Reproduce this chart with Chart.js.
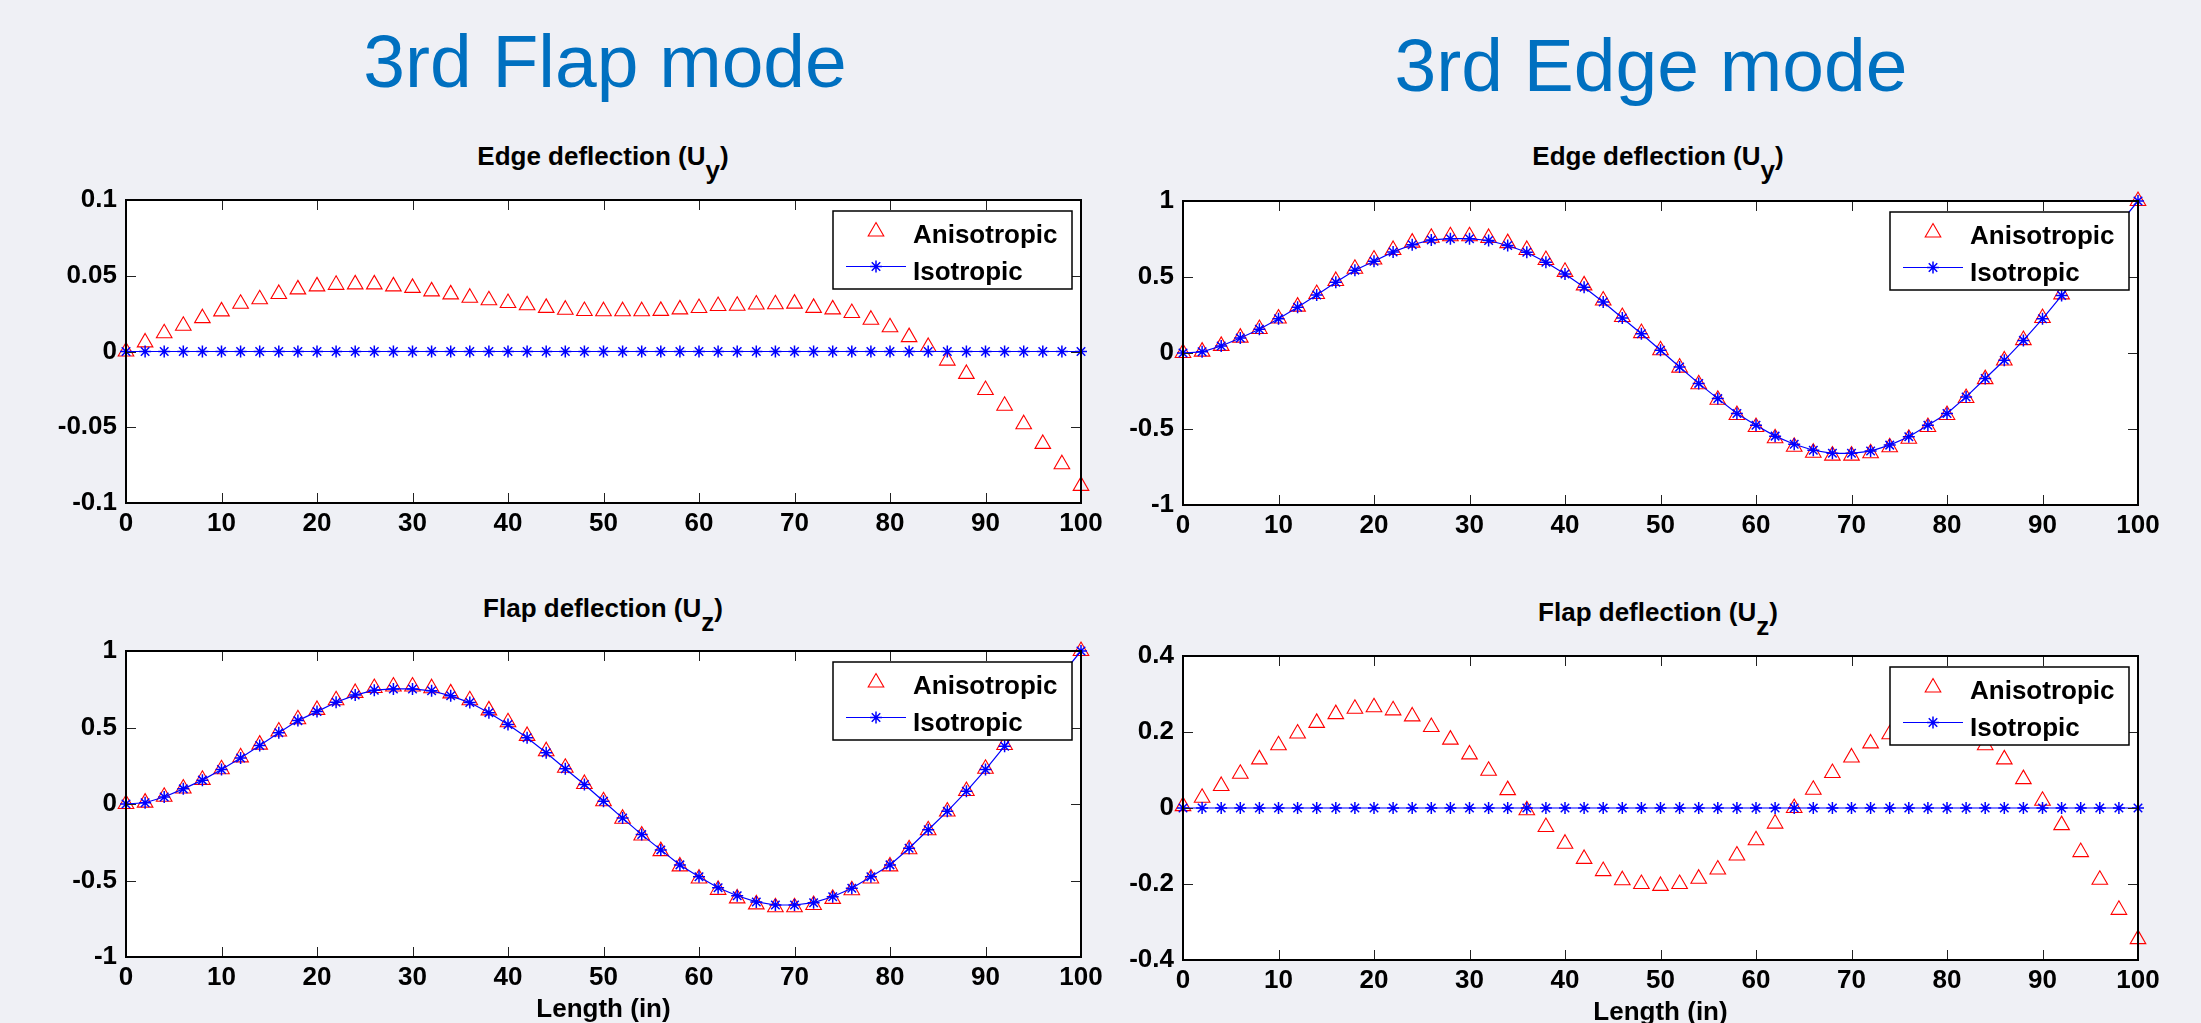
<!DOCTYPE html>
<html>
<head>
<meta charset="utf-8">
<script src="https://cdn.jsdelivr.net/npm/chart.js@4.4.1/dist/chart.umd.min.js"></script>
<style>
  html, body { margin: 0; padding: 0; width: 2201px; height: 1023px; overflow: hidden; background: #eff0f5; }
  #page { position: relative; width: 2201px; height: 1023px; overflow: hidden; font-family: "Liberation Sans", Arial, sans-serif; }
  .heading { position: absolute; font-size: 75px; line-height: 75px; color: #0070c0; white-space: nowrap; transform: translateX(-50%); }
  .subtitle { position: absolute; font-size: 26px; line-height: 26px; font-weight: bold; color: #000; white-space: nowrap; transform: translateX(-50%); }
  .subtitle .sub { position: relative; top: 14px; }
  canvas { position: absolute; }
</style>
</head>
<body>
<div id="page">
  <div class="heading" style="left:605px; top:24px;">3rd Flap mode</div>
  <div class="heading" style="left:1651px; top:28px;">3rd Edge mode</div>
  <div class="subtitle" style="left:603px; top:143px;">Edge deflection (U<span class="sub">y</span>)</div>
  <div class="subtitle" style="left:1658px; top:143px;">Edge deflection (U<span class="sub">y</span>)</div>
  <div class="subtitle" style="left:603px; top:595px;">Flap deflection (U<span class="sub">z</span>)</div>
  <div class="subtitle" style="left:1658px; top:599px;">Flap deflection (U<span class="sub">z</span>)</div>
</div>
<script>
// Station positions along the blade (in)
const lengthIn = [0, 2, 4, 6, 8, 10, 12, 14, 16, 18, 20, 22, 24, 26, 28, 30, 32, 34, 36, 38, 40,
  42, 44, 46, 48, 50, 52, 54, 56, 58, 60, 62, 64, 66, 68, 70, 72, 74, 76, 78, 80,
  82, 84, 86, 88, 90, 92, 94, 96, 98, 100];

// Axis tick values
const xTickValues = [0, 10, 20, 30, 40, 50, 60, 70, 80, 90, 100];
const yTicksSmall = [-0.1, -0.05, 0, 0.05, 0.1];
const yTicksUnit = [-1, -0.5, 0, 0.5, 1];
const yTicksMid = [-0.4, -0.2, 0, 0.2, 0.4];

const seriesNames = ['Anisotropic', 'Isotropic'];

// 3rd flap mode, edge deflection Uy
const flapModeEdgeAniso = [0, 0.006, 0.012, 0.017, 0.022, 0.0265, 0.0315, 0.0345, 0.038, 0.041, 0.043,
  0.044, 0.0443, 0.0443, 0.043, 0.042, 0.0397, 0.0377, 0.0355, 0.0338, 0.032,
  0.0305, 0.0288, 0.0276, 0.0267, 0.0266, 0.0266, 0.0266, 0.0268, 0.0278, 0.0287,
  0.03, 0.0302, 0.031, 0.0312, 0.0316, 0.0288, 0.0278, 0.0254, 0.021, 0.016,
  0.0095, 0.003, -0.006, -0.0148, -0.0254, -0.0358, -0.048, -0.061, -0.0744, -0.0887];
const flapModeEdgeIso = [0, 0, 0, 0, 0, 0, 0, 0, 0, 0, 0, 0, 0, 0, 0, 0, 0, 0, 0, 0, 0,
  0, 0, 0, 0, 0, 0, 0, 0, 0, 0, 0, 0, 0, 0, 0, 0, 0, 0, 0, 0,
  0, 0, 0, 0, 0, 0, 0, 0, 0, 0];

// Normalised mode shape shared by the flap-mode Uz and edge-mode Uy panels
const modeShapeAniso = [0, 0.009, 0.047, 0.101, 0.158, 0.227, 0.305, 0.388, 0.474, 0.554, 0.615,
  0.678, 0.726, 0.758, 0.768, 0.768, 0.757, 0.723, 0.678, 0.612, 0.534,
  0.445, 0.345, 0.237, 0.131, 0.018, -0.096, -0.206, -0.308, -0.408, -0.487,
  -0.561, -0.617, -0.656, -0.675, -0.675, -0.66, -0.62, -0.564, -0.487, -0.408,
  -0.296, -0.172, -0.049, 0.085, 0.23, 0.386, 0.546, 0.705, 0.862, 1.0];
const modeShapeIso = [0, 0.008, 0.046, 0.099, 0.156, 0.225, 0.301, 0.382, 0.466, 0.545, 0.604,
  0.665, 0.712, 0.744, 0.752, 0.752, 0.74, 0.707, 0.663, 0.597, 0.52,
  0.433, 0.335, 0.23, 0.127, 0.018, -0.092, -0.2, -0.3, -0.398, -0.475,
  -0.547, -0.6, -0.64, -0.66, -0.66, -0.645, -0.606, -0.551, -0.475, -0.398,
  -0.289, -0.168, -0.048, 0.083, 0.225, 0.378, 0.535, 0.69, 0.845, 1.0];

// 3rd edge mode, flap deflection Uz
const edgeModeFlapAniso = [0.005, 0.027, 0.058, 0.09, 0.128, 0.165, 0.196, 0.224, 0.247, 0.261, 0.265,
  0.257, 0.241, 0.213, 0.18, 0.141, 0.098, 0.047, -0.006, -0.05, -0.094,
  -0.134, -0.166, -0.19, -0.2, -0.205, -0.2, -0.186, -0.162, -0.125, -0.085,
  -0.041, 0, 0.048, 0.092, 0.133, 0.17, 0.194, 0.213, 0.222, 0.219,
  0.2, 0.165, 0.128, 0.076, 0.019, -0.045, -0.116, -0.189, -0.268, -0.345];
const edgeModeFlapIso = [0, 0, 0, 0, 0, 0, 0, 0, 0, 0, 0, 0, 0, 0, 0, 0, 0, 0, 0, 0, 0,
  0, 0, 0, 0, 0, 0, 0, 0, 0, 0, 0, 0, 0, 0, 0, 0, 0, 0, 0, 0,
  0, 0, 0, 0, 0, 0, 0, 0, 0, 0];

const FONT = '"Liberation Sans", Arial, sans-serif';
const RED = '#ff0000';
const BLUE = '#0000ff';

// Plot boxes on the page (left, top, right, bottom of the axes area)
const panels = [
  { box: [126, 200, 1081, 503], yTicks: yTicksSmall, aniso: flapModeEdgeAniso, iso: flapModeEdgeIso, xTitle: false },
  { box: [1183, 201, 2138, 505], yTicks: yTicksUnit, aniso: modeShapeAniso, iso: modeShapeIso, xTitle: false },
  { box: [126, 651, 1081, 957], yTicks: yTicksUnit, aniso: modeShapeAniso, iso: modeShapeIso, xTitle: true },
  { box: [1183, 656, 2138, 960], yTicks: yTicksMid, aniso: edgeModeFlapAniso, iso: edgeModeFlapIso, xTitle: true }
];

const Y_AXIS_W = 130, PAD_TOP = 30, PAD_RIGHT = 40, X_AXIS_H_TOP = 60, X_AXIS_H_BOTTOM = 68;

// White axes background
const plotBackground = {
  id: 'plotBackground',
  beforeDraw(chart) {
    const { ctx, chartArea: a } = chart;
    ctx.save();
    ctx.fillStyle = '#ffffff';
    ctx.fillRect(a.left, a.top, a.right - a.left, a.bottom - a.top);
    ctx.restore();
  }
};

// Boxed axes with inward tick marks on all four sides
const boxedAxes = {
  id: 'boxedAxes',
  afterDatasetsDraw(chart) {
    const { ctx, chartArea: a, scales } = chart;
    const len = 10;
    ctx.save();
    ctx.strokeStyle = '#222';
    ctx.lineWidth = 1;
    ctx.beginPath();
    scales.x.ticks.forEach(t => {
      const px = Math.round(scales.x.getPixelForValue(t.value)) + 0.5;
      ctx.moveTo(px, a.bottom); ctx.lineTo(px, a.bottom - len);
      ctx.moveTo(px, a.top); ctx.lineTo(px, a.top + len);
    });
    scales.y.ticks.forEach(t => {
      const py = Math.round(scales.y.getPixelForValue(t.value)) + 0.5;
      ctx.moveTo(a.left, py); ctx.lineTo(a.left + len, py);
      ctx.moveTo(a.right, py); ctx.lineTo(a.right - len, py);
    });
    ctx.stroke();
    ctx.strokeStyle = '#000';
    ctx.lineWidth = 2;
    ctx.strokeRect(a.left, a.top, a.right - a.left, a.bottom - a.top);
    ctx.restore();
  }
};

// Boxed legend in the upper right corner of the axes
const boxedLegend = {
  id: 'boxedLegend',
  afterDraw(chart) {
    const { ctx, chartArea: a } = chart;
    const ds = chart.data.datasets;
    const w = 239, h = 78;
    const left = a.right - 9 - w, top = a.top + 11;
    ctx.save();
    ctx.fillStyle = '#ffffff';
    ctx.fillRect(left, top, w, h);
    ctx.strokeStyle = '#000';
    ctx.lineWidth = 1.5;
    ctx.strokeRect(left, top, w, h);

    const mx = left + 43;
    const rows = [top + 20.5, top + 55.5];
    const baselines = [top + 31.5, top + 69];
    ds.forEach((d, i) => {
      const y = rows[i];
      if (d.showLine !== false) {
        ctx.strokeStyle = d.borderColor;
        ctx.lineWidth = d.borderWidth;
        ctx.beginPath();
        ctx.moveTo(left + 13, y);
        ctx.lineTo(left + 73, y);
        ctx.stroke();
      }
      ctx.strokeStyle = d.pointBorderColor;
      ctx.fillStyle = 'rgba(0,0,0,0)';
      ctx.lineWidth = d.pointBorderWidth;
      Chart.helpers.drawPoint(ctx, { pointStyle: d.pointStyle, radius: d.pointRadius, borderWidth: d.pointBorderWidth, rotation: 0 }, mx, y);
      ctx.fillStyle = '#000';
      ctx.font = 'bold 26px ' + FONT;
      ctx.textAlign = 'left';
      ctx.textBaseline = 'alphabetic';
      ctx.fillText(d.label, left + 80, baselines[i]);
    });
    ctx.restore();
  }
};

const fmtTick = v => String(Math.round(v * 1000) / 1000);

const page = document.getElementById('page');
panels.forEach(p => {
  const [l, t, r, b] = p.box;
  const xH = p.xTitle ? X_AXIS_H_BOTTOM : X_AXIS_H_TOP;
  const canvas = document.createElement('canvas');
  canvas.width = (r - l) + Y_AXIS_W + PAD_RIGHT;
  canvas.height = (b - t) + PAD_TOP + xH;
  canvas.style.left = (l - Y_AXIS_W) + 'px';
  canvas.style.top = (t - PAD_TOP) + 'px';
  canvas.style.width = canvas.width + 'px';
  canvas.style.height = canvas.height + 'px';
  page.appendChild(canvas);

  const toPoints = arr => lengthIn.map((x, i) => ({ x, y: arr[i] }));
  const tickFont = { family: FONT, size: 26, weight: 'bold' };

  new Chart(canvas, {
    type: 'line',
    data: {
      datasets: [
        {
          label: seriesNames[0], data: toPoints(p.aniso), showLine: false,
          pointStyle: 'triangle', pointRadius: 9, pointBorderWidth: 1.1,
          pointBorderColor: RED, pointBackgroundColor: 'rgba(0,0,0,0)',
          borderColor: RED, backgroundColor: 'rgba(0,0,0,0)', order: 1, clip: false
        },
        {
          label: seriesNames[1], data: toPoints(p.iso), showLine: true,
          borderColor: BLUE, borderWidth: 1.2, tension: 0, fill: false,
          pointStyle: 'star', pointRadius: 6, pointBorderWidth: 1.5,
          pointBorderColor: BLUE, pointBackgroundColor: BLUE, order: 0, clip: false
        }
      ]
    },
    options: {
      responsive: false,
      animation: false,
      events: [],
      layout: { padding: { left: 0, top: PAD_TOP, right: PAD_RIGHT, bottom: 0 } },
      plugins: { legend: { display: false }, tooltip: { enabled: false }, title: { display: false } },
      scales: {
        x: {
          type: 'linear', min: 0, max: 100,
          afterBuildTicks: s => { s.ticks = xTickValues.map(v => ({ value: v })); },
          afterFit: s => { s.height = xH; },
          grid: { display: false, drawTicks: false },
          border: { display: false },
          ticks: { color: '#000', font: tickFont, padding: 5, maxRotation: 0, autoSkip: false, callback: v => fmtTick(v) },
          title: {
            display: p.xTitle, text: 'Length (in)', color: '#000',
            font: { family: FONT, size: 26, weight: 'bold', lineHeight: 1.2 },
            padding: { top: 0, bottom: 0 }
          }
        },
        y: {
          type: 'linear', min: p.yTicks[0], max: p.yTicks[p.yTicks.length - 1],
          afterBuildTicks: s => { s.ticks = p.yTicks.map(v => ({ value: v })); },
          afterFit: s => { s.width = Y_AXIS_W; },
          grid: { display: false, drawTicks: false },
          border: { display: false },
          ticks: { color: '#000', font: tickFont, padding: 9, autoSkip: false, callback: v => fmtTick(v) }
        }
      }
    },
    plugins: [plotBackground, boxedAxes, boxedLegend]
  });
});
</script>
</body>
</html>
